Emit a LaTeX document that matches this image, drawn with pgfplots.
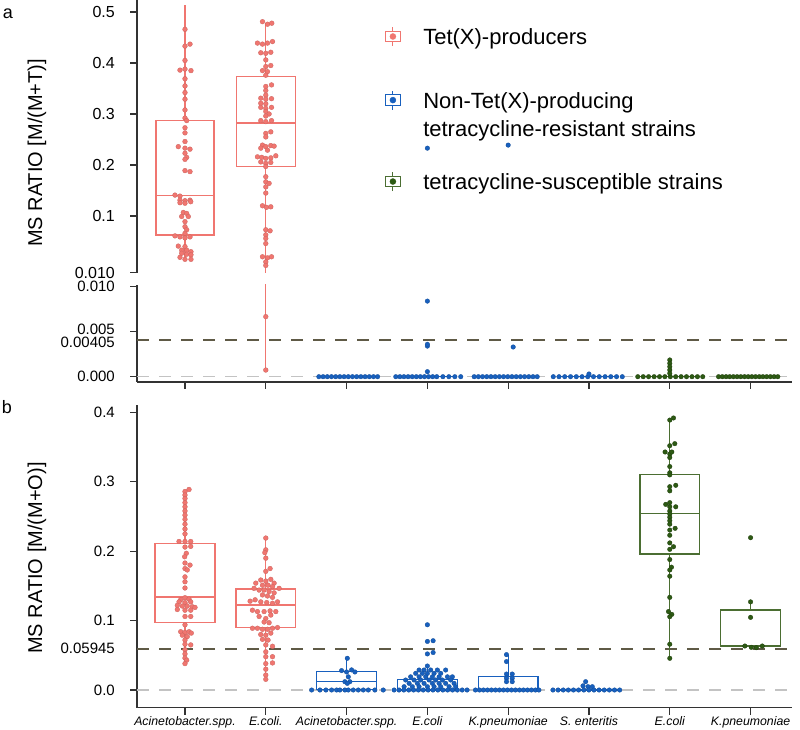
\documentclass[border=0pt]{standalone}
\usepackage{fontspec}
\setmainfont{Liberation Sans}
\usepackage{pgfplots}
\pgfplotsset{compat=1.18}
\usepgfplotslibrary{statistics}
\definecolor{redc}{RGB}{240,118,112}
\definecolor{bluec}{RGB}{24,96,190}
\definecolor{greenc}{RGB}{45,90,20}
\definecolor{greenbox}{RGB}{75,110,50}
\definecolor{thrc}{RGB}{95,90,70}
\definecolor{zeroc}{RGB}{195,195,195}
\pgfplotsset{
  myaxis/.style={
    scale only axis, width=654.7pt, xmin=-0.594, xmax=7.509,
    axis line style={line width=1.1pt, black!80},
    tick style={line width=1.1pt, black!80},
    major tick length=7pt, tick align=outside,
    axis y line*=left,
    scaled y ticks=false,
    boxplot/draw direction=y,
    /pgf/number format/assume math mode=true,
    yticklabel style={font=\fontsize{15}{15}\selectfont, inner sep=0pt, xshift=-15pt},
    ylabel style={font=\fontsize{20}{20}\selectfont, inner sep=0pt, rotate=0, anchor=center},
    clip=true,
  },
  legaxis/.style={at={(137pt,456pt)}, anchor=south west, scale only axis, width=654.7pt, height=273pt,
    xmin=0, xmax=1, ymin=0, ymax=1, hide axis,
    legend style={at={(axis description cs:0.3778,#1)}, anchor=west, draw=none, fill=none,
      inner sep=0pt, column sep=22pt, row sep=0pt, font=\fontsize{22}{28}\selectfont,
      cells={anchor=base west}, nodes={inner sep=0pt}}},
  rpt/.style={only marks, mark=*, mark size=2.4pt, mark options={fill=redc, draw=redc!85!black, line width=0.3pt}},
  bpt/.style={only marks, mark=*, mark size=2.3pt, mark options={fill=bluec, draw=bluec!80!black, line width=0.3pt}},
  gpt/.style={only marks, mark=*, mark size=2.3pt, mark options={fill=greenc, draw=greenc!70!black, line width=0.3pt}},
  thr/.style={draw=thrc, line width=1.5pt, dash pattern=on 12pt off 10pt},
  zer/.style={draw=zeroc, line width=1.6pt, dash pattern=on 12pt off 10pt},
  bx/.style={draw=#1, line width=1.35pt},
}
\begin{document}
\begin{tikzpicture}
\useasboundingbox (0pt,0pt) rectangle (800pt,729pt);
\node[font=\fontsize{18}{18}\selectfont, inner sep=0pt] at (8pt,715pt) {a};
\node[font=\fontsize{18}{18}\selectfont, inner sep=0pt] at (7pt,322pt) {b};

% ---------------- legend (three single-entry legends) ----------------
\begin{axis}[legaxis=0.8663]
\addlegendimage{legend image code/.code={
  \draw[redc, line width=1.1pt] (0pt,-1.6pt) -- (0pt,2.6pt) (0pt,13.2pt) -- (0pt,17.4pt);
  \draw[redc, line width=1.1pt, fill=white] (-7.8pt,2.6pt) rectangle (7.8pt,13.2pt);
  \fill[redc] (0pt,7.9pt) circle (3pt);}}
\addlegendentry{Tet(X)-producers}
\end{axis}
\begin{axis}[legaxis=0.6363]
\addlegendimage{legend image code/.code={
  \draw[bluec, line width=1.1pt] (0pt,-1.6pt) -- (0pt,2.6pt) (0pt,13.2pt) -- (0pt,17.4pt);
  \draw[bluec, line width=1.1pt, fill=white] (-7.8pt,2.6pt) rectangle (7.8pt,13.2pt);
  \fill[bluec] (0pt,7.9pt) circle (3pt);}}
\addlegendentry{\begin{tabular}[t]{@{}l@{}}Non-Tet(X)-producing\\tetracycline-resistant strains\end{tabular}}
\end{axis}
\begin{axis}[legaxis=0.3351]
\addlegendimage{legend image code/.code={
  \draw[greenbox, line width=1.1pt] (0pt,-1.6pt) -- (0pt,2.6pt) (0pt,13.2pt) -- (0pt,17.4pt);
  \draw[greenbox, line width=1.1pt, fill=white] (-7.8pt,2.6pt) rectangle (7.8pt,13.2pt);
  \fill[greenc] (0pt,7.9pt) circle (3pt);}}
\addlegendentry{tetracycline-susceptible strains}
\end{axis}

% ---------------- panel a, upper part ----------------
\begin{axis}[myaxis, at={(137pt,456pt)}, anchor=south west, height=273pt,
  ymin=-0.01176, ymax=0.5235, axis x line=none, xtick=\empty,
  ytick={-0.0112,0.1,0.2,0.3,0.4,0.5}, yticklabels={0.010,0.1,0.2,0.3,0.4,0.5},
  yticklabel style={font=\fontsize{16}{16}\selectfont},
  ylabel={MS RATIO [M/(M+T)]},
  ylabel style={at={(axis description cs:-0.1527,0.4396)}, rotate=0},
]
\addplot[bx=redc, boxplot prepared={draw position=0, lower whisker=0.014, lower quartile=0.063, median=0.140, upper quartile=0.287, upper whisker=0.514, box extend=0.72, whisker extend=0}] coordinates {};
\addplot[bx=redc, boxplot prepared={draw position=1, lower whisker=-0.02, lower quartile=0.197, median=0.282, upper quartile=0.374, upper whisker=0.478, box extend=0.73, whisker extend=0}] coordinates {};
\addplot[rpt] coordinates {
(0,0.466)
(0,0.433) (0.062,0.437)
(0,0.405)
(-0.062,0.386) (0,0.388) (0.074,0.385)
(0,0.369) (0,0.355) (0,0.342) (0,0.329) (0,0.308)
(0,0.292) (0.021,0.287)
(0,0.273) (0,0.263) (0,0.246)
(-0.083,0.236) (0,0.233) (0.062,0.231)
(0,0.223)
(0.021,0.215) (0,0.211)
(0,0.189) (0.062,0.187)
(-0.124,0.141) (-0.062,0.139)
(-0.062,0.131) (0,0.130) (0.062,0.131)
(-0.062,0.126) (0,0.125) (0.071,0.128)
(-0.021,0.107) (0.021,0.105)
(-0.041,0.099) (0.041,0.099)
(0,0.089)
(0,0.079) (0.021,0.073)
(0,0.066)
(-0.124,0.061) (-0.062,0.059) (0,0.057) (0.062,0.059)
(-0.083,0.041) (0,0.040)
(-0.041,0.033) (0.021,0.033) (0.074,0.030)
(-0.041,0.027) (0.021,0.025) (0.074,0.024)
(-0.062,0.019) (0,0.015) (0.074,0.015)
};
\addplot[rpt] coordinates {
(0.959,0.481) (1.021,0.476) (1.074,0.478)
(0.897,0.439) (0.959,0.437) (1.021,0.439) (1.083,0.442)
(0.938,0.420) (1,0.419) (1.062,0.421)
(1,0.406)
(1,0.393) (1.062,0.395)
(0.959,0.385) (1.021,0.383)
(1,0.376)
(1,0.354) (1.071,0.357)
(1,0.346) (1,0.337)
(0.938,0.331) (1,0.329) (1.071,0.330)
(0.938,0.321) (1,0.320)
(0.938,0.313) (1,0.311) (1.071,0.313)
(1,0.305) (1.041,0.300)
(1,0.296)
(0.938,0.287) (1,0.285) (1.071,0.287)
(1,0.262) (1.062,0.265)
(1,0.255)
(0.959,0.239) (1,0.236) (1.062,0.238) (1.103,0.237)
(0.938,0.233) (1.021,0.229)
(0.897,0.216) (0.950,0.215) (1,0.213) (1.062,0.214) (1.124,0.218)
(0.938,0.206) (1,0.203) (1.062,0.205)
(1,0.197) (1,0.177)
(1,0.167) (1.041,0.164)
(1,0.157) (1,0.145)
(0.959,0.120) (1.009,0.117) (1.062,0.118)
(1,0.073) (1.053,0.071)
(1,0.063) (1,0.056) (1,0.046)
(0.959,0.020) (1.021,0.018) (1.071,0.020)
(1,0.010) (1,0.003)
};
\addplot[bpt] coordinates {(3,0.233) (4,0.239)};
\end{axis}

% ---------------- panel a, lower part ----------------
\begin{axis}[myaxis, at={(137pt,347pt)}, anchor=south west, height=97pt,
  ymin=-0.000589, ymax=0.010189, axis x line*=bottom,
  xtick={0,1,2,3,4,5,6,7}, xticklabels={},
  ytick={0,0.005,0.010}, yticklabels={0.000,\raisebox{5pt}{0.005},0.010},
  extra y ticks={0.00405}, extra y tick labels={0.00405},
  extra y tick style={major tick length=0pt, yticklabel style={xshift=-7pt, yshift=-2.5pt}},
]
\addplot[zer] coordinates {(-0.594,0) (7.509,0)};
\addplot[thr] coordinates {(-0.594,0.00405) (7.509,0.00405)};
\addplot[bx=redc] coordinates {(1,0.00074) (1,0.0105)};
\addplot[bx=bluec] coordinates {(1.63,0) (2.37,0)};
\addplot[bx=bluec] coordinates {(2.63,0) (3.37,0)};
\addplot[bx=bluec] coordinates {(3.63,0) (4.37,0)};
\addplot[bx=bluec] coordinates {(4.63,0) (5.37,0)};
\addplot[bx=greenbox] coordinates {(5.63,0) (6.37,0)};
\addplot[bx=greenbox] coordinates {(6.63,0) (7.37,0)};
\addplot[rpt] coordinates {(1,0.00667) (1,0.00074)};
\addplot[bpt] coordinates {
(1.657,0) (1.709,0) (1.761,0) (1.813,0) (1.865,0) (1.917,0) (1.969,0) (2.021,0) (2.073,0) (2.125,0) (2.177,0) (2.229,0) (2.281,0) (2.333,0) (2.384,0)
(2.609,0) (2.660,0) (2.710,0) (2.761,0) (2.812,0) (2.863,0) (2.913,0) (2.964,0) (3.015,0) (3.066,0) (3.116,0) (3.192,0) (3.266,0) (3.340,0) (3.413,0)
(3,0.0084) (3,0.0034) (3,0.0036) (3,0.00056)
(3.579,0) (3.631,0) (3.683,0) (3.735,0) (3.787,0) (3.839,0) (3.891,0) (3.943,0) (3.995,0) (4.047,0) (4.099,0) (4.151,0) (4.203,0) (4.255,0) (4.307,0) (4.359,0)
(4.062,0.0033)
(4.558,0) (4.629,0) (4.700,0) (4.772,0) (4.843,0) (4.914,0) (4.985,0) (5.056,0) (5.127,0) (5.199,0) (5.270,0) (5.341,0) (5.412,0)
(5.0,0.0003)
};
\addplot[gpt] coordinates {
(5.604,0) (5.671,0) (5.738,0) (5.806,0) (5.873,0) (5.939,0) (6.006,0) (6.073,0) (6.140,0) (6.207,0) (6.275,0) (6.342,0) (6.408,0)
(6,0.00186) (6,0.00148) (6,0.00111) (6,0.00074) (6,0.00037)
(6.604,0) (6.650,0) (6.696,0) (6.741,0) (6.787,0) (6.833,0) (6.879,0) (6.925,0) (6.970,0) (7.016,0) (7.062,0) (7.108,0) (7.153,0) (7.199,0) (7.245,0) (7.291,0) (7.337,0)
};
\end{axis}

% ---------------- panel b ----------------
\begin{axis}[myaxis, at={(137pt,21.3pt)}, anchor=south west, height=302.7pt,
  ymin=-0.0255, ymax=0.4107, axis x line*=bottom,
  xtick={0,1,2,3,4,5,6,7},
  xticklabels={Acinetobacter.spp.,E.coli.,Acinetobacter.spp.,E.coli,K.pneumoniae,S. enteritis,E.coli,K.pneumoniae},
  xticklabel style={font=\fontsize{12.3}{14}\selectfont\itshape, inner sep=0pt, yshift=-2pt},
  ytick={0,0.1,0.2,0.3,0.4}, yticklabels={0.0,0.1,0.2,0.3,0.4},
  extra y ticks={0.05945}, extra y tick labels={0.05945},
  extra y tick style={major tick length=0pt, yticklabel style={xshift=-7pt}},
  ylabel={MS RATIO [M/(M+O)]},
  ylabel style={at={(axis description cs:-0.1527,0.4945)}, rotate=0},
]
\addplot[zer] coordinates {(-0.594,0) (7.509,0)};
\addplot[thr] coordinates {(-0.594,0.05945) (7.509,0.05945)};
\addplot[bx=redc, boxplot prepared={draw position=0, lower whisker=0.038, lower quartile=0.0976, median=0.134, upper quartile=0.211, upper whisker=0.288, box extend=0.74, whisker extend=0}] coordinates {};
\addplot[bx=redc, boxplot prepared={draw position=1, lower whisker=0.0154, lower quartile=0.0898, median=0.1225, upper quartile=0.1455, upper whisker=0.219, box extend=0.74, whisker extend=0}] coordinates {};
\addplot[bx=bluec, boxplot prepared={draw position=2, lower whisker=0.0002, lower quartile=0.001, median=0.012, upper quartile=0.0264, upper whisker=0.0457, box extend=0.74, whisker extend=0}] coordinates {};
\addplot[bx=bluec, boxplot prepared={draw position=3, lower whisker=0.0001, lower quartile=0.0002, median=0.001, upper quartile=0.0154, upper whisker=0.0346, box extend=0.74, whisker extend=0}] coordinates {};
\addplot[bx=bluec, boxplot prepared={draw position=4, lower whisker=0.0001, lower quartile=0.0002, median=0.0003, upper quartile=0.019, upper whisker=0.051, box extend=0.74, whisker extend=0}] coordinates {};
\addplot[bx=bluec] coordinates {(4.63,0) (5.37,0)};
\addplot[bx=greenbox, boxplot prepared={draw position=6, lower whisker=0.0457, lower quartile=0.196, median=0.2546, upper quartile=0.311, upper whisker=0.3915, box extend=0.74, whisker extend=0}] coordinates {};
\addplot[bx=greenbox, boxplot prepared={draw position=7, lower whisker=0.061, lower quartile=0.0624, median=0.0638, upper quartile=0.1153, upper whisker=0.127, box extend=0.74, whisker extend=0}] coordinates {};
\addplot[rpt] coordinates {
(0.050,0.289) (0,0.286)
(0,0.281) (0,0.276) (0,0.270) (0,0.264) (0,0.258) (0,0.252) (0,0.246) (0,0.239) (0,0.232) (0,0.225)
(-0.074,0.214) (0,0.214) (0.071,0.214)
(0,0.206) (0.071,0.207)
(0.016,0.197) (-0.004,0.192)
(0,0.183) (0.062,0.180)
(0,0.175) (0.028,0.173)
(0,0.163) (0,0.156) (0,0.147)
(0,0.133) (-0.053,0.130) (0.050,0.131)
(-0.074,0.127) (0,0.126) (0.071,0.127)
(-0.095,0.122) (-0.033,0.121) (0.028,0.121) (0.090,0.120)
(-0.095,0.116) (0,0.115) (0.071,0.115) (0.124,0.119)
(0,0.106) (0.071,0.106)
(0,0.094)
(-0.053,0.084) (0,0.083) (0.050,0.084)
(-0.033,0.079) (0.028,0.077) (0.078,0.082)
(0,0.072)
(0,0.066) (0.071,0.065)
(0,0.058) (0,0.052)
(0,0.046) (0.021,0.043)
(0,0.038)
};
\addplot[rpt] coordinates {
(1,0.219)
(1,0.202) (0.988,0.198)
(1,0.190)
(1.053,0.175) (1,0.171)
(0.938,0.1585) (1,0.157) (1.062,0.1595) (1.103,0.154)
(0.876,0.154) (0.959,0.151) (1.028,0.151) (1.083,0.149) (1.165,0.1465)
(0.855,0.1465) (0.917,0.144) (0.979,0.144) (1.041,0.142) (1.103,0.140)
(0.959,0.137) (1.021,0.1355) (1.083,0.1335)
(0.806,0.128) (0.868,0.130) (0.938,0.127) (1.012,0.126) (1.083,0.125) (1.145,0.127)
(0.835,0.115) (0.897,0.113) (0.979,0.113) (1.053,0.114) (1.124,0.113)
(0.917,0.106) (1,0.103) (1.062,0.108)
(0.979,0.098) (1.041,0.097)
(0.835,0.089) (0.897,0.089) (0.959,0.0875) (1.021,0.0875) (1.083,0.089) (1.145,0.090)
(0.938,0.080) (1,0.079) (1.062,0.082)
(0.959,0.073) (1.028,0.072)
(1,0.065) (1.083,0.063)
(1,0.055)
(1,0.048) (1.083,0.048)
(1,0.038) (1.083,0.039)
(1,0.030) (1,0.0216) (1,0.0154)
};
\addplot[bpt] coordinates {
(2.009,0.0457)
(1.938,0.028) (2,0.026) (2.062,0.029) (2.103,0.026)
(2.021,0.019)
(1.979,0.012) (2.041,0.012)
(2.009,0.0096)
(1.567,0) (1.670,0) (1.744,0) (1.814,0) (1.876,0) (1.917,0) (1.979,0) (2.021,0) (2.083,0) (2.145,0) (2.207,0) (2.269,0) (2.350,0) (2.454,0)
(3,0.094)
(3,0.070) (3.071,0.071)
(3,0.052) (3.071,0.054)
(3,0.0346)
(2.897,0.0288) (2.959,0.0288) (3.041,0.0288) (3.124,0.0288) (3.226,0.0288)
(2.855,0.024) (2.938,0.024) (3,0.024) (3.083,0.024) (3.165,0.024)
(2.793,0.019) (2.897,0.019) (2.979,0.019) (3.062,0.019) (3.145,0.019) (3.248,0.019) (3.309,0.019)
(2.731,0.0144) (2.835,0.0144) (2.917,0.0144) (3.021,0.0144) (3.103,0.0144) (3.186,0.0144) (3.288,0.0144)
(2.774,0.0096) (2.876,0.0096) (2.959,0.0096) (3.062,0.0096) (3.145,0.0096) (3.226,0.0096) (3.330,0.0096)
(2.712,0.0048) (2.814,0.0048) (2.897,0.0048) (3,0.0048) (3.083,0.0048) (3.165,0.0048) (3.269,0.0048) (3.350,0.0048)
(2.588,0) (2.649,0) (2.708,0) (2.769,0) (2.829,0) (2.889,0) (2.949,0) (3.010,0) (3.069,0) (3.130,0) (3.191,0) (3.250,0) (3.311,0) (3.371,0) (3.431,0) (3.491,0)
(3.979,0.051) (3.979,0.041)
(3.979,0.023) (4.050,0.023)
(3.979,0.017) (4.050,0.017)
(3.979,0.012) (4.050,0.012)
(3.595,0) (3.645,0) (3.694,0) (3.744,0) (3.793,0) (3.843,0) (3.892,0) (3.942,0) (3.991,0) (4.041,0) (4.090,0) (4.140,0) (4.189,0) (4.239,0) (4.288,0) (4.338,0) (4.380,0)
(4.959,0.012)
(4.926,0.006) (4.988,0.0048) (5.041,0.0048)
(4.554,0) (4.618,0) (4.682,0) (4.745,0) (4.808,0) (4.871,0) (4.936,0) (4.999,0) (5.062,0) (5.125,0) (5.189,0) (5.252,0) (5.316,0) (5.380,0)
};
\addplot[gpt] coordinates {
(6,0.389) (6.046,0.392)
(6,0.352) (6.062,0.355)
(5.942,0.343) (6,0.340) (6.025,0.343)
(6,0.335) (6,0.322) (6,0.313) (6,0.310)
(6,0.293) (6.074,0.295) (6,0.287)
(5.950,0.2675) (6,0.270) (6.074,0.264) (6,0.264)
(6,0.258) (6,0.2536) (6,0.249) (6,0.244) (6,0.239)
(6.066,0.233) (6,0.2305)
(6,0.223)
(6,0.212) (6.046,0.2065) (6,0.2027)
(6,0.188)
(6.021,0.177) (6,0.173)
(6,0.164)
(6,0.1335)
(5.984,0.113) (6.025,0.109) (6,0.1056)
(6,0.066)
(6,0.0457)
(7,0.2195) (7,0.127) (7,0.1047)
(6.929,0.0634) (7.009,0.0615) (7.071,0.061) (7.145,0.0634)
};
\end{axis}
\end{tikzpicture}
\end{document}
